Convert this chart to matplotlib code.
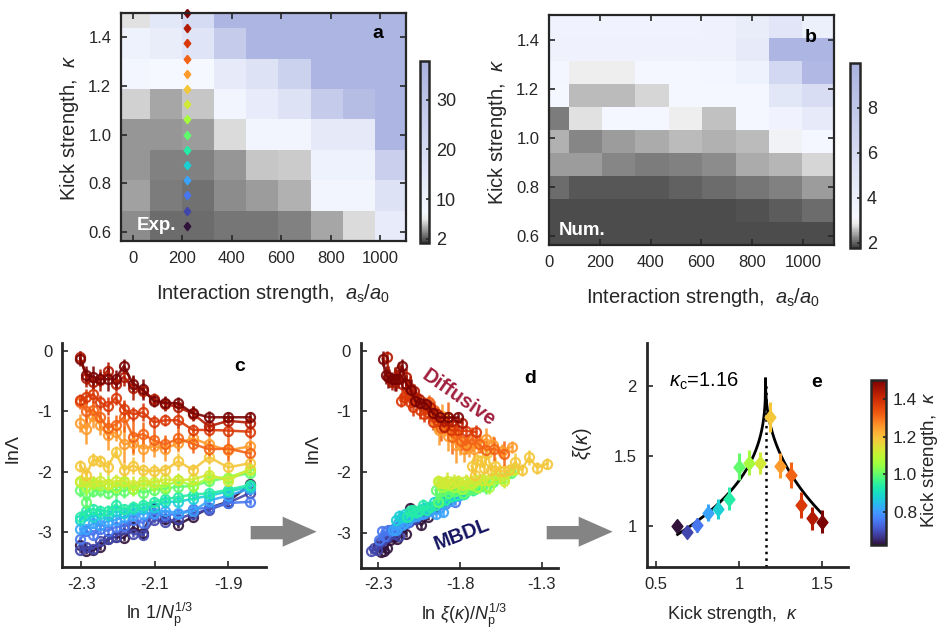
import numpy as np
import matplotlib
matplotlib.use("Agg")
import matplotlib.pyplot as plt
from matplotlib.colors import LinearSegmentedColormap, Normalize
from matplotlib.cm import ScalarMappable
from matplotlib.patches import Polygon

plt.rcParams['font.family'] = ['Liberation Sans', 'DejaVu Sans']
plt.rcParams['mathtext.fontset'] = 'custom'
plt.rcParams['mathtext.rm'] = 'Liberation Sans'
plt.rcParams['mathtext.it'] = 'Liberation Sans:italic'
plt.rcParams['mathtext.bf'] = 'Liberation Sans:bold'
plt.rcParams['axes.unicode_minus'] = False

# ---------------- data ----------------
# panel a (experiment): columns = a_s/a_0, rows = kick strength
a_as = [4, 134, 264, 393, 523, 653, 783, 913, 1043]
a_kappa = [0.625, 0.75, 0.875, 1.0, 1.125, 1.25, 1.375, 1.5]
a_grid = [
    [3.35, 2.61, 2.55, 2.82, 2.88, 3.17, 4.17, 5.63, 12.6],
    [4.04, 2.98, 2.74, 3.42, 3.90, 4.47, 8.6, 8.6, 17.0],
    [3.71, 3.09, 3.17, 3.71, 4.93, 5.17, 10.2, 10.2, 25.0],
    [3.73, 3.73, 3.90, 5.53, 8.6, 8.6, 14.0, 14.0, 36.2],
    [5.34, 4.12, 4.98, 8.6, 12.6, 17.0, 27.0, 33.0, 36.2],
    [8.2, 7.5, 7.5, 13.4, 17.0, 24.0, 36.0, 36.0, 36.2],
    [10.2, 12.2, 16.2, 26.6, 36.2, 36.2, 36.2, 36.2, 36.2],
    [5.71, 14.6, 20.2, 36.2, 36.2, 36.2, 36.2, 36.2, 36.2],
]
a_marker_as = 220

# panel b (numerics)
b_as = [13, 144, 275, 406, 538, 669, 800, 931, 1062]
b_kappa = [0.609, 0.703, 0.797, 0.891, 0.984, 1.078, 1.172, 1.266, 1.359, 1.453]
b_grid = [
    [1.85, 1.85, 1.85, 1.85, 1.85, 1.85, 1.85, 1.85, 1.85],
    [1.86, 1.86, 1.85, 1.86, 1.86, 1.87, 1.90, 1.96, 2.07],
    [2.05, 1.93, 1.93, 1.94, 1.98, 2.05, 2.13, 2.19, 2.35],
    [2.35, 2.35, 2.23, 2.16, 2.18, 2.25, 2.43, 2.51, 2.70],
    [2.46, 2.23, 2.35, 2.43, 2.54, 2.46, 2.54, 3.00, 3.24],
    [2.16, 2.75, 3.24, 3.24, 2.90, 2.58, 3.24, 3.60, 4.50],
    [3.24, 2.53, 2.53, 2.70, 3.24, 3.24, 3.24, 4.86, 5.77],
    [3.30, 2.90, 2.90, 3.24, 3.24, 3.30, 3.78, 6.30, 9.37],
    [3.69, 3.69, 3.69, 3.69, 3.69, 3.69, 4.50, 9.64, 9.64],
    [3.60, 3.60, 3.60, 3.60, 3.60, 3.70, 4.20, 5.00, 4.00],
]

# kick strengths of the 15 measured curves
kappa = [0.625, 0.6875, 0.75, 0.8125, 0.875, 0.9375, 1.0, 1.0625,
         1.125, 1.1875, 1.25, 1.3125, 1.375, 1.4375, 1.5]

# panel c: ln 1/N_p^(1/3) and ln Lambda
c_x = [-2.3026, -2.2855, -2.2675, -2.2484, -2.2282, -2.2067, -2.1837, -2.1590,
       -2.1323, -2.1033, -2.0715, -2.0364, -1.9971, -1.9526, -1.9012, -1.8405]
c_lnL = [
    [-3.22, -3.32, -3.30, -3.25, -3.12, -3.08, -3.10, -2.92, -3.02, -2.60, -2.78, -2.88, -2.75, -2.60, -2.50, -2.21],
    [-3.30, -3.25, -3.28, -3.15, -3.12, -3.08, -2.95, -3.03, -3.05, -2.80, -2.83, -2.78, -2.70, -2.63, -2.52, -2.35],
    [-3.12, -2.98, -3.05, -2.95, -2.98, -2.92, -2.90, -2.80, -2.85, -2.70, -2.72, -2.70, -2.62, -2.60, -2.52, -2.50],
    [-2.95, -2.95, -2.85, -2.88, -2.82, -2.80, -2.75, -2.72, -2.70, -2.68, -2.65, -2.69, -2.66, -2.48, -2.40, -2.28],
    [-2.80, -2.72, -2.75, -2.70, -2.72, -2.66, -2.68, -2.62, -2.60, -2.58, -2.50, -2.50, -2.45, -2.40, -2.33, -2.25],
    [-2.75, -2.65, -2.62, -2.66, -2.65, -2.55, -2.62, -2.58, -2.55, -2.50, -2.46, -2.42, -2.38, -2.36, -2.30, -2.22],
    [-2.30, -2.50, -2.32, -2.30, -2.35, -2.30, -2.32, -2.28, -2.35, -2.30, -2.28, -2.25, -2.24, -2.16, -2.10, -2.02],
    [-2.17, -2.25, -2.20, -2.22, -2.20, -2.25, -2.18, -2.28, -2.20, -2.22, -2.25, -2.14, -2.24, -2.10, -2.10, -1.97],
    [-2.15, -2.18, -2.18, -2.15, -2.20, -2.16, -2.15, -2.22, -2.15, -2.18, -2.13, -2.14, -2.13, -2.05, -2.15, -1.95],
    [-1.90, -2.05, -1.80, -1.82, -1.93, -1.68, -1.97, -1.90, -1.98, -1.99, -1.97, -1.83, -1.97, -1.76, -1.93, -1.86],
    [-1.20, -1.30, -1.08, -1.22, -1.40, -1.35, -1.55, -1.52, -1.62, -1.58, -1.62, -1.53, -1.45, -1.55, -1.65, -1.58],
    [-0.85, -1.00, -0.98, -1.10, -1.28, -1.22, -1.10, -1.42, -1.38, -1.48, -1.55, -1.45, -1.54, -1.63, -1.62, -1.70],
    [-0.82, -0.76, -0.72, -0.85, -0.92, -0.78, -0.97, -1.05, -1.02, -1.18, -1.15, -1.15, -1.31, -1.31, -1.32, -1.34],
    [-0.10, -0.45, -0.52, -0.48, -0.33, -0.55, -0.43, -0.62, -0.66, -0.80, -0.88, -0.93, -1.04, -1.25, -1.16, -1.19],
    [-0.13, -0.40, -0.43, -0.47, -0.47, -0.46, -0.25, -0.55, -0.64, -0.83, -0.86, -0.87, -1.03, -1.10, -1.10, -1.10],
]
c_err = [
    [0.05, 0.05, 0.04, 0.05, 0.05, 0.06, 0.05, 0.06, 0.05, 0.08, 0.05, 0.06, 0.05, 0.05, 0.04, 0.05],
    [0.05, 0.06, 0.05, 0.05, 0.06, 0.05, 0.06, 0.05, 0.06, 0.05, 0.06, 0.05, 0.05, 0.06, 0.05, 0.05],
    [0.06, 0.07, 0.06, 0.08, 0.06, 0.07, 0.06, 0.08, 0.06, 0.07, 0.06, 0.07, 0.06, 0.06, 0.05, 0.05],
    [0.08, 0.07, 0.08, 0.06, 0.08, 0.07, 0.06, 0.08, 0.07, 0.06, 0.08, 0.07, 0.06, 0.07, 0.06, 0.05],
    [0.08, 0.10, 0.07, 0.08, 0.09, 0.07, 0.08, 0.10, 0.07, 0.08, 0.09, 0.07, 0.08, 0.07, 0.06, 0.06],
    [0.10, 0.12, 0.08, 0.10, 0.09, 0.11, 0.08, 0.10, 0.09, 0.08, 0.10, 0.08, 0.09, 0.08, 0.07, 0.06],
    [0.12, 0.15, 0.10, 0.12, 0.10, 0.13, 0.11, 0.10, 0.12, 0.10, 0.11, 0.10, 0.12, 0.09, 0.08, 0.08],
    [0.10, 0.13, 0.12, 0.10, 0.14, 0.10, 0.12, 0.13, 0.10, 0.12, 0.11, 0.10, 0.13, 0.12, 0.10, 0.09],
    [0.10, 0.12, 0.10, 0.15, 0.10, 0.12, 0.10, 0.14, 0.11, 0.13, 0.10, 0.12, 0.10, 0.15, 0.12, 0.08],
    [0.10, 0.12, 0.10, 0.10, 0.12, 0.10, 0.12, 0.14, 0.10, 0.12, 0.10, 0.14, 0.10, 0.12, 0.10, 0.09],
    [0.15, 0.25, 0.20, 0.18, 0.25, 0.15, 0.30, 0.20, 0.22, 0.18, 0.20, 0.15, 0.18, 0.15, 0.12, 0.10],
    [0.12, 0.20, 0.15, 0.18, 0.20, 0.15, 0.25, 0.28, 0.20, 0.18, 0.15, 0.20, 0.15, 0.15, 0.20, 0.22],
    [0.10, 0.12, 0.15, 0.12, 0.15, 0.12, 0.15, 0.12, 0.15, 0.12, 0.10, 0.12, 0.10, 0.10, 0.10, 0.12],
    [0.10, 0.15, 0.12, 0.18, 0.15, 0.12, 0.15, 0.20, 0.12, 0.10, 0.12, 0.10, 0.12, 0.10, 0.08, 0.10],
    [0.12, 0.15, 0.18, 0.12, 0.20, 0.15, 0.12, 0.15, 0.18, 0.10, 0.12, 0.10, 0.12, 0.10, 0.08, 0.08],
]

# panel e: scaling parameter xi(kappa)
xi = [1.00, 0.96, 1.007, 1.095, 1.12, 1.195, 1.424, 1.452, 1.448, 1.776,
      1.43, 1.364, 1.15, 1.055, 1.03]
xi_err = [0.02, 0.03, 0.05, 0.06, 0.07, 0.08, 0.095, 0.09, 0.08, 0.107,
          0.09, 0.095, 0.09, 0.083, 0.083]
kappa_c = 1.16
# fit: xi = top - amp*|kappa - kappa_c|^p on each side
fit_top = 2.05
fit_left = (1.39, 0.354)
fit_right = (1.54, 0.436)

# ---------------- style ----------------
TXT = '#262626'
cmap_ab = LinearSegmentedColormap.from_list(
    'grey_lav', [(0.0, '#3c3c3c'), (0.13, '#ececec'), (0.17, '#f5f8ff'), (1.0, '#a9b2e0')])
knorm = Normalize(0.625, 1.5)
kcolors = [plt.cm.turbo(knorm(k)) for k in kappa]
diamond = [(0, 1), (0.78, 0), (0, -1), (-0.78, 0), (0, 1)]

fig = plt.figure(figsize=(9.43, 6.33), dpi=100)
W, H = 943.0, 633.0


def add_px(l, t, r, b):
    return fig.add_axes([l / W, 1 - b / H, (r - l) / W, (b - t) / H])


def box_style(ax):
    for s in ax.spines.values():
        s.set_linewidth(1.6)
        s.set_color(TXT)
    ax.tick_params(direction='in', top=True, right=True, length=4, width=1.2,
                   labelsize=12, colors=TXT, pad=7)


def open_style(ax):
    for s in ['top', 'right']:
        ax.spines[s].set_visible(False)
    for s in ['left', 'bottom']:
        ax.spines[s].set_linewidth(2)
        ax.spines[s].set_color(TXT)
    ax.tick_params(direction='in', length=4, width=1.2, labelsize=12, colors=TXT, pad=7)


def cbar_style(cb, size=12.5):
    cb.outline.set_linewidth(1.8)
    cb.outline.set_edgecolor(TXT)
    cb.ax.tick_params(direction='in', length=2.5, width=1.2, labelsize=size, colors=TXT, pad=5)


# ---------------- panel a ----------------
ax_a = add_px(121, 13, 406, 241)
mesh_a = ax_a.pcolormesh(a_as, a_kappa, np.array(a_grid), cmap=cmap_ab,
                         norm=Normalize(1.2, 37.8), shading='nearest')
for k, c in zip(kappa, kcolors):
    ax_a.plot(a_marker_as, k, marker=diamond, ms=6, color=c, ls='none', clip_on=False)
ax_a.set_xlim(-48, 1103)
ax_a.set_ylim(0.5625, 1.5)
ax_a.set_xticks([0, 200, 400, 600, 800, 1000])
ax_a.set_yticks([0.6, 0.8, 1.0, 1.2, 1.4])
ax_a.set_yticklabels(['0.6', '0.8', '1.0', '1.2', '1.4'])
box_style(ax_a)
ax_a.set_xlabel(r'Interaction strength,  $a_\mathrm{s}/a_0$', fontsize=14.5, color=TXT)
ax_a.xaxis.set_label_coords(0.533, -0.18)
ax_a.set_ylabel(r'Kick strength,  $\kappa$', fontsize=14.5, color=TXT)
ax_a.yaxis.set_label_coords(-0.142, 0.496)
ax_a.text(0.902, 0.912, 'a', transform=ax_a.transAxes, ha='center', va='center',
          fontsize=14, fontweight='bold', color='black')
ax_a.text(0.125, 0.07, 'Exp.', transform=ax_a.transAxes, ha='center', va='center',
          fontsize=13.5, fontweight='bold', color='white')
cax_a = add_px(420, 61, 429, 242.7)
cb_a = fig.colorbar(mesh_a, cax=cax_a)
cb_a.set_ticks([2, 10, 20, 30])
cb_a.set_ticklabels(['2', '10', '20', '30'])
cbar_style(cb_a, 13)

# ---------------- panel b ----------------
ax_b = add_px(549, 15, 834, 245)
mesh_b = ax_b.pcolormesh(b_as, b_kappa, np.array(b_grid), cmap=cmap_ab,
                         norm=Normalize(1.75, 10.0), shading='nearest')
ax_b.set_xlim(0, 1122)
ax_b.set_ylim(0.5625, 1.5)
ax_b.set_xticks([0, 200, 400, 600, 800, 1000])
ax_b.set_yticks([0.6, 0.8, 1.0, 1.2, 1.4])
ax_b.set_yticklabels(['0.6', '0.8', '1.0', '1.2', '1.4'])
box_style(ax_b)
ax_b.set_xlabel(r'Interaction strength,  $a_\mathrm{s}/a_0$', fontsize=14.5, color=TXT)
ax_b.xaxis.set_label_coords(0.54, -0.178)
ax_b.set_ylabel(r'Kick strength,  $\kappa$', fontsize=14.5, color=TXT)
ax_b.yaxis.set_label_coords(-0.14, 0.491)
ax_b.text(0.919, 0.9, 'b', transform=ax_b.transAxes, ha='center', va='center',
          fontsize=14, fontweight='bold', color='black')
ax_b.text(0.116, 0.061, 'Num.', transform=ax_b.transAxes, ha='center', va='center',
          fontsize=13.5, fontweight='bold', color='white')
cax_b = add_px(850, 62.7, 860, 248.3)
cb_b = fig.colorbar(mesh_b, cax=cax_b)
cb_b.set_ticks([2, 4, 6, 8])
cb_b.set_ticklabels(['2', '4', '6', '8'])
cbar_style(cb_b, 13)

# ---------------- panels c and d ----------------
ax_c = add_px(62, 343, 266, 567)
ax_d = add_px(360.7, 343, 558, 567.7)
for i in range(len(kappa)):
    shift = np.log(xi[i])
    for ax, xs in ((ax_c, np.array(c_x)), (ax_d, np.array(c_x) + shift)):
        ax.errorbar(xs, c_lnL[i], yerr=c_err[i], color=kcolors[i], marker='o', mfc='none',
                    ms=6.5, mew=1.6, lw=1.8, elinewidth=1.8, capsize=0, alpha=0.9)

for ax in (ax_c, ax_d):
    ax.set_ylim(-3.58, 0.13)
    ax.set_yticks([0, -1, -2, -3])
    ax.set_yticklabels(['0', '-1', '-2', '-3'])
    open_style(ax)
    ax.set_ylabel(r'ln$\mathit{\Lambda}$', fontsize=14, color=TXT)
    ax.yaxis.set_label_coords(-0.19, 0.522)

ax_c.set_xlim(-2.352, -1.798)
ax_c.set_xticks([-2.3, -2.1, -1.9])
ax_c.set_xticklabels(['-2.3', '-2.1', '-1.9'])
ax_c.set_xlabel(r'ln 1/$N_\mathrm{p}^{1/3}$', fontsize=13, color=TXT)
ax_c.xaxis.set_label_coords(0.48, -0.15)
ax_c.text(0.873, 0.893, 'c', transform=ax_c.transAxes, ha='center', va='center',
          fontsize=14, fontweight='bold', color='black')

ax_d.set_xlim(-2.408, -1.2)
ax_d.set_xticks([-2.3, -1.8, -1.3])
ax_d.set_xticklabels(['-2.3', '-1.8', '-1.3'])
ax_d.set_xlabel(r'ln $\xi(\kappa)/N_\mathrm{p}^{1/3}$', fontsize=13, color=TXT)
ax_d.xaxis.set_label_coords(0.523, -0.15)
ax_d.text(0.858, 0.84, 'd', transform=ax_d.transAxes, ha='center', va='center',
          fontsize=14, fontweight='bold', color='black')
ax_d.text(0.498, 0.757, 'Diffusive', transform=ax_d.transAxes, ha='center', va='center',
          rotation=-35, fontsize=14.5, fontweight='bold', color='#a01e3c')
ax_d.text(0.512, 0.15, 'MBDL', transform=ax_d.transAxes, ha='center', va='center',
          rotation=21, fontsize=14.5, fontweight='bold', color='#141460')

# ---------------- panel e ----------------
ax_e = add_px(646.7, 343, 848, 567.3)
kl = np.linspace(0.63, kappa_c, 300)
kr = np.linspace(kappa_c, 1.5, 300)
ax_e.plot(kl, fit_top - fit_left[0] * (kappa_c - kl) ** fit_left[1], color='black', lw=2)
ax_e.plot(kr, fit_top - fit_right[0] * (kr - kappa_c) ** fit_right[1], color='black', lw=2)
ax_e.plot([kappa_c, kappa_c], [0.705, 2.0], color='black', ls=':', lw=1.8)
for k, v, e, c in zip(kappa, xi, xi_err, kcolors):
    ax_e.errorbar(k, v, yerr=e, fmt='none', ecolor=c, elinewidth=2.2, capsize=0)
    ax_e.plot(k, v, marker=diamond, ms=10, color=c, ls='none')
ax_e.set_xlim(0.444, 1.657)
ax_e.set_ylim(0.705, 2.307)
ax_e.set_xticks([0.5, 1, 1.5])
ax_e.set_xticklabels(['0.5', '1', '1.5'])
ax_e.set_yticks([1, 1.5, 2])
ax_e.set_yticklabels(['1', '1.5', '2'])
open_style(ax_e)
ax_e.set_xlabel(r'Kick strength,  $\kappa$', fontsize=13, color=TXT)
ax_e.xaxis.set_label_coords(0.424, -0.165)
ax_e.set_ylabel(r'$\xi(\kappa)$', fontsize=14.5, color=TXT)
ax_e.yaxis.set_label_coords(-0.26, 0.554)
ax_e.text(0.846, 0.826, 'e', transform=ax_e.transAxes, ha='center', va='center',
          fontsize=14, fontweight='bold', color='black')
ax_e.text(0.285, 0.83, r'$\kappa_\mathrm{c}$=1.16', transform=ax_e.transAxes,
          ha='center', va='center', fontsize=14.5, color='black')

cax_e = add_px(870.7, 380, 886, 545)
cb_e = fig.colorbar(ScalarMappable(norm=knorm, cmap='turbo'), cax=cax_e)
cb_e.set_ticks([0.8, 1.0, 1.2, 1.4])
cb_e.set_ticklabels(['0.8', '1.0', '1.2', '1.4'])
cbar_style(cb_e, 12.5)
fig.text(930 / W, 1 - 460 / H, r'Kick strength,  $\kappa$', rotation=90, ha='center',
         va='center', fontsize=13.5, color=TXT)

# ---------------- grey arrows between c, d, e ----------------
for x0 in (250.7, 546.7):
    pts = [(x0, 526), (x0 + 32, 526), (x0 + 32, 516.7), (x0 + 66, 531.7),
           (x0 + 32, 546.7), (x0 + 32, 539.3), (x0, 539.3)]
    fig.patches.append(Polygon([(px / W, 1 - py / H) for px, py in pts], closed=True,
                               transform=fig.transFigure, facecolor='#848484',
                               edgecolor='none'))

fig.savefig('out.png', dpi=100)
